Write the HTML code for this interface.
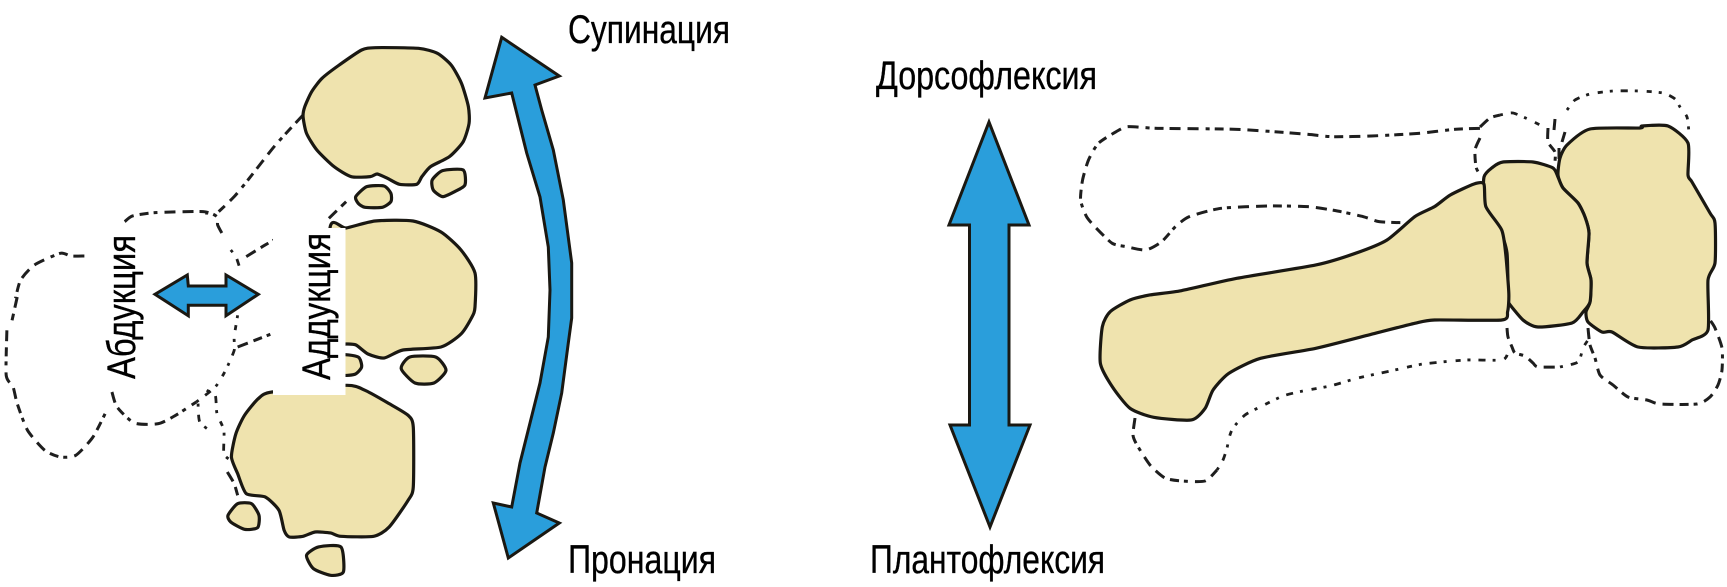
<!DOCTYPE html>
<html lang="ru">
<head>
<meta charset="utf-8">
<title>Диаграмма</title>
<style>
html,body{margin:0;padding:0;background:#fff;width:1727px;height:587px;overflow:hidden}
svg{display:block}
.b{fill:#efe3ae;stroke:#1a1812;stroke-width:3.2;stroke-linejoin:round;vector-effect:non-scaling-stroke}
.a{fill:#2a9edb;stroke:#1a1812;stroke-width:3;stroke-linejoin:miter;stroke-miterlimit:3}
.d{fill:none;stroke:#1e1e1e;stroke-width:3;stroke-linejoin:round;vector-effect:non-scaling-stroke;stroke-dasharray:11 6 9 5 4 7 11 7}
.d2{fill:none;stroke:#1e1e1e;stroke-width:2.8;vector-effect:non-scaling-stroke;stroke-dasharray:3 8 7 7 3 9 5 7}
text{font-family:"Liberation Sans","Noto Sans CJK SC",sans-serif;font-size:40px;fill:#000;stroke:#000;stroke-width:.35}
</style>
</head>
<body>
<svg width="1727" height="587" viewBox="0 0 1727 587" xmlns="http://www.w3.org/2000/svg">
<rect width="1727" height="587" fill="#fff"/>

<!-- Left: dashes from upper crop -->
<g transform="scale(.3444,.3333)">
<polyline class="d" points="880,345 800,435 720,540 680,590 635,635"/>
<polyline class="d" points="362,665 385,648 450,638 590,635 630,650 632,675 650,710"/>
<polyline class="d2" points="600,635 600,665"/>
<polyline class="d2" points="670,750 685,770 695,800"/>
<polyline class="d" points="715,770 770,735 855,685"/>
<polyline class="d" points="955,655 1005,605"/>
<polyline class="d" points="245,768 205,768 175,760 100,795 60,840 45,895"/>
<polygon class="b" points="885,320 905,275 935,235 985,195 1050,150 1090,143 1215,145 1270,160 1310,195 1340,250 1360,320 1362,370 1345,425 1305,470 1250,500 1225,530 1210,553 1160,553 1125,535 1095,522 1075,530 1020,530 970,500 920,450 890,400 880,350"/>
<polygon class="b" points="1255,540 1285,512 1345,510 1350,555 1320,575 1285,590 1258,570"/>
<polygon class="b" points="1033,590 1065,560 1115,558 1135,580 1135,605 1110,622 1060,622 1040,610"/>
</g>

<!-- Left: dashes from lower crop -->
<g transform="translate(0,287) scale(.3444,.3333)">
<polyline class="d" points="50,30 35,100"/>
<polyline class="d" points="20,130 18,265 38,300 50,350 80,430 130,490 175,510 220,505 270,450 310,370"/>
<polyline class="d" points="325,315 340,360 390,408 460,410 510,385 570,345"/>
<polyline class="d2" points="570,345 625,300 655,250 680,190 680,150 690,85"/>
<polyline class="d" points="690,180 790,140"/>
<polyline class="d2" points="575,350 580,405 615,435"/>
<polyline class="d2" points="600,310 625,325 630,380 650,430 650,500 670,520"/>
<polyline class="d" points="660,555 680,590 690,625"/>
<polygon class="b" points="790,315 750,335 710,385 685,440 672,510 690,560 715,620 770,630 810,670 825,730 840,750 880,748 915,735 960,738 990,748 1085,748 1130,720 1185,640 1200,600 1200,420 1185,385 1130,350 1060,310 1005,295"/>
<polygon class="b" points="662,685 690,650 730,650 752,685 748,722 710,727 670,705"/>
<polygon class="b" points="890,805 925,780 990,780 997,855 960,865 910,845"/>
<polygon class="b" points="1165,245 1190,210 1265,210 1295,250 1260,288 1205,288"/>
<polygon class="b" points="985,205 1040,210 1050,240 1030,262 985,262"/>
</g>

<!-- Second left bone -->
<polygon class="b" points="330,228 346,228 375,221 413,221 441,232 461,250 475,273 475,307 472,317 461,334 441,347 403,350 384,358 368,354 356,345 346,344 330,344"/>

<!-- White label patch -->
<rect x="273" y="228" width="72.5" height="167" fill="#fff"/>

<!-- Curved arrow -->
<polygon class="a" points="501.7,37.3 559.3,76 535,85 541.7,110 553.3,150 563.3,200 571.7,263 571.7,318 568.3,343 561.7,393 553.3,433 545,467 536.7,513 559.3,523 508.3,558 493.3,503 511.7,507 520,463 530,423 540,383 548.3,337 550,290 548.3,247 540,197 526.7,153 511.7,93 485,98"/>

<!-- Small double arrow -->
<polygon class="a" points="155,294.3 187.3,275 188.3,286 226,286 226,275 258.3,294.3 226,315.7 226,305.3 188.3,305.3 188.3,315.7"/>

<!-- Straight double arrow -->
<polygon class="a" points="989,122 1029,225 1009,225 1009,425 1030,425 990,527 950,425 969.5,425 969.5,225 949,225"/>

<!-- Foot dashed outlines -->
<g transform="translate(960,80) scale(.3954,.3333)">
<polyline class="d" points="1315,145 1250,148 1160,160 1040,168 940,170 870,162 700,148 500,145 425,140 395,155 350,190 325,240 310,300 305,360 320,410 345,445 385,490 420,500 470,510 510,485 545,440 580,410 660,385 780,378 880,380 950,392 1020,410 1060,425 1115,428"/>
</g>
<polyline class="d" points="1480,127 1490,118 1500,115"/>
<polyline class="d2" points="1500,115 1513,113 1530,120 1540,125"/>
<polyline class="d" points="1480,138 1475,150 1476,167 1480,175"/>
<polyline class="d" points="1548,128 1548,142 1555,152 1555,162"/>
<polyline class="d" points="1559,148 1559,162"/>
<polyline class="d" points="1555,119 1554,130"/>
<polyline class="d" points="1562,142 1565,132"/>
<polyline class="d2" points="1567,110 1575,100 1590,94 1613,91 1640,91 1663,93 1675,99 1680,107 1687,117 1689,133"/>
<polyline class="d" points="1135,418 1133,435 1137,445 1150,465 1165,478 1182,481 1205,481 1217,470"/>
<polyline class="d2" points="1217,470 1223,460 1227,448 1229,438 1233,428 1245,415 1260,407 1283,396 1303,391 1330,386 1358,378 1395,370 1423,364 1466,360 1502,360 1508,353"/>
<polyline class="d" points="1507,328 1508,337 1512,347 1515,353 1525,356 1533,363 1538,367 1560,367"/>
<polyline class="d2" points="1560,367 1578,362 1583,348 1588,340"/>
<polyline class="d" points="1588,328 1590,345 1595,358 1600,375 1613,385 1628,397 1647,400 1660,404 1697,404 1710,397 1718,385 1722,370 1722,348 1715,328 1710,320"/>

<!-- Foot bones -->
<polygon class="b" points="1558,175 1560,158 1567,145 1590,129 1640,128 1642,126 1668,126 1688,143 1688,175 1692,182 1710,213 1715,223 1715,263 1708,280 1708,330 1692,340 1678,347 1638,347 1612,332 1602,332 1588,322 1586,312 1590,302 1591,280 1587,263 1589,233 1585,217 1578,203 1563,188"/>
<polygon class="b" points="1484,177 1493,167 1503,162 1533,162 1553,168 1558,177 1563,188 1578,203 1585,217 1589,233 1587,263 1591,280 1590,302 1583,312 1572,323 1538,327 1523,320 1508,302 1508,297 1507,253 1500,230 1485,205"/>
<g transform="translate(960,80) scale(.3954,.3333)">
<polygon class="b" points="1300,312 1240,345 1200,380 1150,410 1080,480 1000,520 900,555 700,595 560,632 480,645 430,660 380,695 360,740 355,850 385,920 430,985 490,1012 585,1020 620,985 640,930 680,880 760,835 900,805 1050,760 1150,730 1200,720 1370,720 1385,695 1388,640 1380,520 1370,450 1330,380 1325,312"/>
</g>

<!-- Labels -->
<text x="568" y="43" textLength="162" lengthAdjust="spacingAndGlyphs">Супинация</text>
<text x="568" y="573" textLength="148" lengthAdjust="spacingAndGlyphs">Пронация</text>
<text x="876" y="89" textLength="221" lengthAdjust="spacingAndGlyphs">Дорсофлексия</text>
<text x="870" y="573" textLength="235" lengthAdjust="spacingAndGlyphs">Плантофлексия</text>
<text transform="translate(135,379) rotate(-90)" x="0" y="0" textLength="144" lengthAdjust="spacingAndGlyphs">Абдукция</text>
<text transform="translate(330,380) rotate(-90)" x="0" y="0" textLength="147" lengthAdjust="spacingAndGlyphs">Аддукция</text>
</svg>
<script>
(function(){
  var NS="http://www.w3.org/2000/svg",K=9;
  function pts(el){
    var n=el.getAttribute("points").trim().split(/\s+/),o=[];
    for(var i=0;i<n.length;i++){var c=n[i].split(",");o.push([+c[0],+c[1]]);}
    return o;
  }
  function f(v){return v.toFixed(1);}
  function smooth(p,closed){
    var L=p.length,d="M"+f(p[0][0])+" "+f(p[0][1]),segs=closed?L:L-1;
    for(var i=0;i<segs;i++){
      var a=closed?p[(i-1+L)%L]:p[Math.max(i-1,0)],
          b=p[i],
          c=closed?p[(i+1)%L]:p[i+1],
          e=closed?p[(i+2)%L]:p[Math.min(i+2,L-1)];
      d+=" C"+f(b[0]+(c[0]-a[0])/K)+" "+f(b[1]+(c[1]-a[1])/K)+" "+
          f(c[0]-(e[0]-b[0])/K)+" "+f(c[1]-(e[1]-b[1])/K)+" "+f(c[0])+" "+f(c[1]);
    }
    return d+(closed?" Z":"");
  }
  var list=document.querySelectorAll("polygon.b,polyline.d,polyline.d2");
  for(var i=0;i<list.length;i++){
    var el=list[i],closed=el.tagName.toLowerCase()==="polygon",
        path=document.createElementNS(NS,"path");
    path.setAttribute("class",el.getAttribute("class"));
    path.setAttribute("d",smooth(pts(el),closed));
    el.parentNode.replaceChild(path,el);
  }
})();
</script>
</body>
</html>
